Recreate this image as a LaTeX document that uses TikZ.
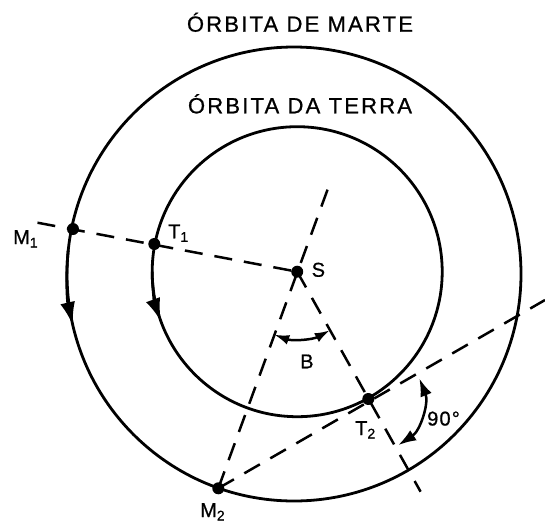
\documentclass[tikz,border=0pt]{standalone}
\usepackage{fontspec}
\setmainfont{Liberation Sans}[FakeBold=0.8]
\usetikzlibrary{arrows.meta}
\newcommand\subdig[1]{\raisebox{-3.5pt}{\fontsize{14}{14}\selectfont #1}}
\begin{document}
\begin{tikzpicture}[x=1pt,y=-1pt,
  orbit/.style={line width=2.8pt},
  guide/.style={line width=2.5pt, dash pattern=on 18pt off 12pt},
  dot/.style={circle,fill,inner sep=0pt,minimum size=12pt},
  lab/.style={inner sep=0pt,anchor=base west,font=\fontsize{20}{20}\selectfont\addfontfeature{LetterSpace=6}},
  title/.style={inner sep=0pt,anchor=base,font=\fontsize{22}{22}\selectfont\addfontfeature{LetterSpace=10}},
  bigtip/.style={-{Latex[length=23pt,width=15pt]}},
  angB/.style={line width=2.5pt,{Latex[length=15pt,width=10pt]}-{Latex[length=15pt,width=10pt]}},
  angR/.style={line width=2.5pt,{Latex[length=18pt,width=12pt]}-{Latex[length=18pt,width=12pt]}}
]
\useasboundingbox (0,0) rectangle (545,522);
\coordinate (C) at (294,274);
\node[dot] (S) at (297.2,271.7) {};
\node[dot] (M1) at (73,229) {};
\node[dot] (T1) at (154.3,244) {};
\node[dot] (T2) at (368.3,399) {};
\node[dot] (M2) at (218.3,488.3) {};
\coordinate (E1) at (37.5,222.7);
\coordinate (E2) at (329.5,184.3);
\coordinate (E3) at (420.6,491.7);
\coordinate (E4) at (545,300);
% dashed guide lines
\draw[guide] (E1) -- (S.center);
\draw[guide] (M2.center) -- (E2);
\draw[guide] (S.center) -- (E3);
\draw[guide] (M2.center) -- (E4);
% orbits
\draw[orbit] (C) circle[radius=227];
\draw[orbit] (S.center) circle[radius=145];
% direction arrows
\draw[orbit,bigtip] (C) ++(186:227) arc[start angle=186,end angle=167,radius=227];
\draw[orbit,bigtip] (S.center) ++(180:145) arc[start angle=180,end angle=160,radius=145];
% angles
\draw[angB] (S.center) ++(110:67) arc[start angle=110,end angle=61,radius=67];
\draw[angR] (T2.center) ++(-22:55) arc[start angle=-22,end angle=57,radius=55];
% labels
\node[title] (tm) at (300,31.7) {ÓRBITA DE MARTE};
\node[title] (tt) at (300,113.3) {ÓRBITA DA TERRA};
\node[lab] (lM1) at (13,244) {M\subdig{1}};
\node[lab] (lT1) at (168,238.3) {T\subdig{1}};
\node[lab] (lS) at (311.5,276.7) {S};
\node[lab] (lB) at (300,368.3) {B};
\node[lab] (lT2) at (355,435) {T\subdig{2}};
\node[lab] (l90) at (427,425.5) {90°};
\node[lab] (lM2) at (200,517) {M\subdig{2}};
\end{tikzpicture}
\end{document}
